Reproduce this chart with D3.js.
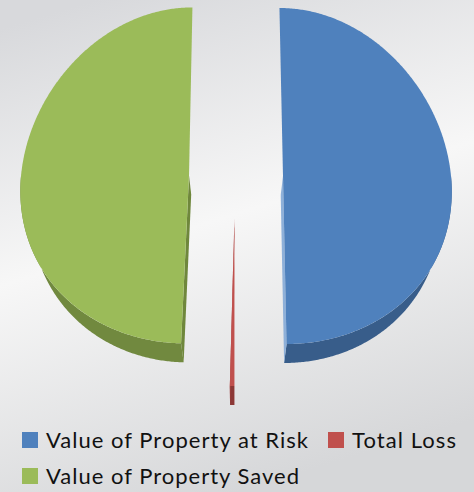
<!DOCTYPE html>
<html>
<head>
<meta charset="utf-8">
<script src="https://cdn.jsdelivr.net/npm/d3@7"></script>
<style>
  html, body { margin: 0; padding: 0; background: #e6e7e9; }
  svg { display: block; }
</style>
</head>
<body>
<div id="chart"></div>
<script>
const categories = ["Value of Property at Risk", "Total Loss", "Value of Property Saved"];
const values = [50, 0.4, 49.6];
const topColors = ["#4f81bd", "#c0504d", "#9bbb59"];
const sideColors = ["#385d8a", "#8c3836", "#71893f"];
const faceColors = ["#8eb0d9", "#a94440", "#6f873c"];

const width = 474, height = 492;
const cx = 235, cy = 176, R = 168;
const DEPTH = 19;
const K = 0.074;   // perspective squeeze toward the top
const D = 0.0025;  // lower rim pulls toward the middle
const explodeBy = [48, 42, 46];

const svg = d3.select("#chart").append("svg")
  .attr("width", width)
  .attr("height", height);

const defs = svg.append("defs");

const bg = defs.append("linearGradient")
  .attr("id", "bg")
  .attr("gradientUnits", "userSpaceOnUse")
  .attr("x1", 160).attr("y1", -20)
  .attr("x2", 310).attr("y2", 470);
bg.append("stop").attr("offset", 0).attr("stop-color", "#d8d9dc");
bg.append("stop").attr("offset", 0.48).attr("stop-color", "#f7f7f7");
bg.append("stop").attr("offset", 1).attr("stop-color", "#d6d7d9");

const redFade = defs.append("linearGradient")
  .attr("id", "redFade")
  .attr("x1", 0).attr("y1", 0).attr("x2", 0).attr("y2", 1);
redFade.append("stop").attr("offset", 0).attr("stop-color", "#c0504d").attr("stop-opacity", 0.05);
redFade.append("stop").attr("offset", 0.3).attr("stop-color", "#c0504d").attr("stop-opacity", 1);
redFade.append("stop").attr("offset", 1).attr("stop-color", "#c0504d").attr("stop-opacity", 1);

svg.append("rect")
  .attr("width", width)
  .attr("height", height)
  .attr("fill", "url(#bg)");

const pie = d3.pie().sort(null).value(d => d);
const arcs = pie(values);

// plane coords (px right, py down from pie centre) -> screen
function proj(px, py, z) {
  const f = (1 + K * py / R) * (1 - D * z);
  return [cx + px * f, cy + py + z];
}

function rimPoint(a, off, z) {
  return proj(off[0] + R * Math.sin(a), off[1] - R * Math.cos(a), z);
}

function sampleAngles(a0, a1) {
  const n = Math.max(2, Math.ceil((a1 - a0) / (Math.PI / 360)));
  return d3.range(n + 1).map(i => a0 + (a1 - a0) * i / n);
}

const line = d3.line().x(d => d[0]).y(d => d[1]);

const slices = arcs.map((d, i) => {
  const mid = (d.startAngle + d.endAngle) / 2;
  const off = [explodeBy[i] * Math.sin(mid), -explodeBy[i] * Math.cos(mid)];
  return { d, i, off };
});

const sideLayer = svg.append("g");
const topLayer = svg.append("g");

slices.forEach(({ d, i, off }) => {
  // outer wall, only the part that faces the viewer
  const s0 = Math.max(d.startAngle, Math.PI / 2);
  const s1 = Math.min(d.endAngle, 3 * Math.PI / 2);
  if (s1 > s0) {
    const angs = sampleAngles(s0, s1);
    const pts = angs.map(a => rimPoint(a, off, 0))
      .concat(angs.slice().reverse().map(a => rimPoint(a, off, DEPTH)));
    sideLayer.append("path")
      .attr("d", line(pts) + "Z")
      .attr("fill", sideColors[i]);
  }

  // cut faces on the lower half
  [d.startAngle, d.endAngle].forEach(a => {
    if (Math.cos(a) >= -0.01) return;
    const pts = [
      proj(off[0], off[1], 0),
      rimPoint(a, off, 0),
      rimPoint(a, off, DEPTH),
      proj(off[0], off[1], DEPTH)
    ];
    sideLayer.append("path")
      .attr("d", line(pts) + "Z")
      .attr("fill", faceColors[i]);
  });

  // top surface
  const topPts = [proj(off[0], off[1], 0)]
    .concat(sampleAngles(d.startAngle, d.endAngle).map(a => rimPoint(a, off, 0)));
  topLayer.append("path")
    .attr("d", line(topPts) + "Z")
    .attr("fill", i === 1 ? "url(#redFade)" : topColors[i]);
});

// legend
const legendItems = [
  { i: 0, x: 22, y: 448, w: 262 },
  { i: 1, x: 328, y: 448, w: 104 },
  { i: 2, x: 22, y: 484, w: 253 }
];

const legend = svg.append("g")
  .selectAll("g")
  .data(legendItems)
  .join("g")
  .attr("transform", d => `translate(${d.x},${d.y})`);

legend.append("rect")
  .attr("x", 0)
  .attr("y", -16)
  .attr("width", 16)
  .attr("height", 16)
  .attr("fill", d => topColors[d.i]);

legend.append("text")
  .attr("x", 24)
  .attr("y", 0)
  .attr("font-family", "Lato, 'Open Sans', sans-serif")
  .attr("font-size", 22)
  .attr("fill", "#111")
  .attr("textLength", d => d.w)
  .attr("lengthAdjust", "spacing")
  .text(d => categories[d.i]);
</script>
</body>
</html>
